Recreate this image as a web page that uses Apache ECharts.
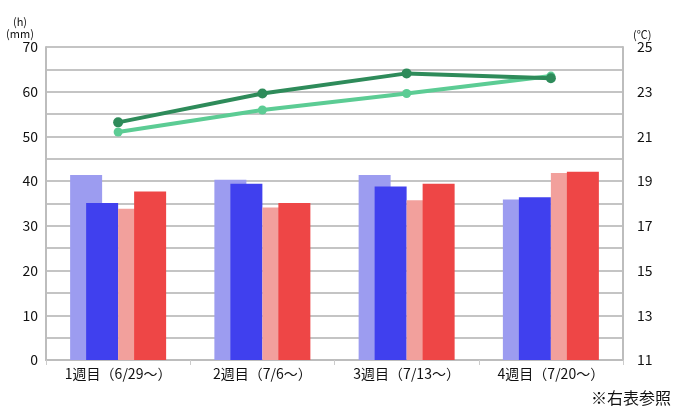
<!DOCTYPE html>
<html><head><meta charset="utf-8">
<script src="https://cdn.jsdelivr.net/npm/echarts@6/dist/echarts.min.js"></script>
<style>html,body{margin:0;padding:0;background:#fff}#c{width:674px;height:410px}</style>
</head><body><div id="c"></div>
<script>
var categories = ['1週目（6/29～）', '2週目（7/6～）', '3週目（7/13～）', '4週目（7/20～）'];
var barLightBlue = [41.4, 40.3, 41.4, 35.9];
var barBlue      = [35.1, 39.4, 38.8, 36.4];
var barLightRed  = [33.8, 34.1, 35.7, 41.8];
var barRed       = [37.7, 35.1, 39.4, 42.1];
var lineLight    = [21.2, 22.18, 22.92, 23.7];
var lineDark     = [21.63, 22.92, 23.82, 23.6];
var gap          = ['-', '-', '-', '-'];

var font = '"Noto Sans CJK JP", "DejaVu Sans", sans-serif';
var chart = echarts.init(document.getElementById('c'), null, {renderer: 'canvas'});
function bar(name, data, color) {
  return {name: name, type: 'bar', data: data, barWidth: 32, barGap: '-50%',
          itemStyle: {color: color}, yAxisIndex: 0, z: 2, animation: false};
}
chart.setOption({
  animation: false,
  grid: {left: 46, right: 51, top: 47, bottom: 50},
  xAxis: {
    type: 'category', data: categories,
    axisLine: {show: true, lineStyle: {color: '#bdbdbd', width: 2}},
    axisTick: {show: true, length: 5, lineStyle: {color: '#cccccc'}},
    axisLabel: {color: '#111', fontSize: 14, fontFamily: font, margin: 7}
  },
  yAxis: [{
    type: 'value', min: 0, max: 70, interval: 10,
    name: '(h)\n(mm)', nameGap: 6, nameLocation: 'end',
    nameTextStyle: {color: '#111', fontSize: 11, fontFamily: font, align: 'center', padding: [0, 0, 0, -52], lineHeight: 12},
    axisLine: {show: true, lineStyle: {color: '#bdbdbd', width: 2}},
    axisTick: {show: false},
    axisLabel: {color: '#111', fontSize: 14, fontFamily: font, margin: 8},
    splitLine: {show: true, lineStyle: {color: '#c4c4c4', width: 2}},
    minorTick: {show: false, splitNumber: 2},
    minorSplitLine: {show: true, lineStyle: {color: '#c4c4c4', width: 2}}
  }, {
    type: 'value', min: 11, max: 25, interval: 2, position: 'right',
    name: '(℃)', nameGap: 4, nameLocation: 'end',
    nameTextStyle: {color: '#111', fontSize: 11, fontFamily: font, align: 'left', padding: [0, 0, 0, 10]},
    axisLine: {show: true, lineStyle: {color: '#bdbdbd', width: 2}},
    axisTick: {show: false},
    axisLabel: {color: '#111', fontSize: 14, fontFamily: font, margin: 14},
    splitLine: {show: false}
  }],
  graphic: [{
    type: 'text', right: 3, bottom: 4,
    style: {text: '※右表参照', fill: '#111', font: '16px ' + font}
  }],
  series: [
    bar('lb', barLightBlue, '#9c9cf0'),
    bar('b', barBlue, '#4040ee'),
    bar('gap', gap, 'rgba(0,0,0,0)'),
    bar('lr', barLightRed, '#f2a09c'),
    bar('r', barRed, '#ee4646'),
    {name: 'light', type: 'line', yAxisIndex: 1, data: lineLight, z: 5,
     lineStyle: {color: '#5ccc94', width: 4}, itemStyle: {color: '#5ccc94'},
     symbol: 'circle', symbolSize: 9, animation: false},
    {name: 'dark', type: 'line', yAxisIndex: 1, data: lineDark, z: 6,
     lineStyle: {color: '#2e8b5a', width: 4}, itemStyle: {color: '#2e8b5a'},
     symbol: 'circle', symbolSize: 10, animation: false}
  ]
});
</script></body></html>
